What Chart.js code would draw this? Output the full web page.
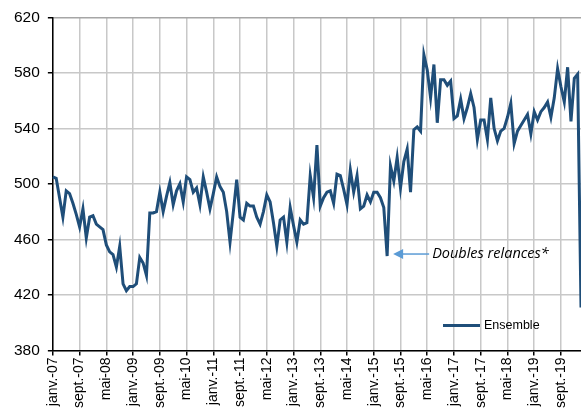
<!DOCTYPE html>
<html>
<head>
<meta charset="utf-8">
<script src="https://cdn.jsdelivr.net/npm/chart.js@4"></script>
<style>
  html, body { margin: 0; padding: 0; background: #fff; overflow: hidden; }
  #wrap { width: 581px; height: 416px; }
</style>
</head>
<body>
<div id="wrap"><canvas id="chart"></canvas></div>
<script>
// months / years for the category labels
const months = ['janv.', 'févr.', 'mars', 'avr.', 'mai', 'juin', 'juil.', 'août', 'sept.', 'oct.', 'nov.', 'déc.'];
const years = ['07', '08', '09', '10', '11', '12', '13', '14', '15', '16', '17', '18', '19', '20'];

// monthly values, one array per year
const v2007 = [505, 504, 490, 476, 495, 493, 486, 478, 469, 482, 461, 476];
const v2008 = [477, 471, 469, 467, 456, 451, 449, 440, 455, 428, 423, 426];
const v2009 = [426, 428, 447, 443, 434, 479, 479, 480, 494, 480, 491, 501];
const v2010 = [485, 495, 500, 487, 505, 503, 494, 497, 485, 505, 494, 482];
const v2011 = [493, 505, 498, 494, 480, 458, 480, 503, 476, 474, 486, 484];
const v2012 = [484, 476, 471, 480, 492, 487, 472, 455, 474, 476, 458, 483];
const v2013 = [470, 458, 474, 471, 472, 506, 490, 528, 484, 490, 494, 495];
const v2014 = [486, 507, 506, 496, 485, 510, 494, 506, 482, 484, 492, 487];
const v2015 = [494, 494, 490, 483, 448, 513, 502, 519, 497, 516, 525, 494];
const v2016 = [539, 541, 538, 593, 582, 562, 586, 544, 575, 575, 571, 574];
const v2017 = [547, 549, 561, 547, 555, 565, 555, 532, 546, 546, 532, 562];
const v2018 = [540, 531, 538, 540, 548, 558, 529, 538, 542, 546, 550, 536];
const v2019 = [552, 546, 552, 555, 559, 548, 562, 583, 570, 559, 584, 545];
const v2020 = [576, 579, 411];

const yTicks = [380, 420, 460, 500, 540, 580, 620];
const seriesName = 'Ensemble';
const noteText = 'Doubles relances*';
const noteIndex = 100; // mai-15

const values = [].concat(v2007, v2008, v2009, v2010, v2011, v2012, v2013,
  v2014, v2015, v2016, v2017, v2018, v2019, v2020);
const categories = [];
years.forEach(function (y) {
  months.forEach(function (m) { categories.push(m + '-' + y); });
});
categories.length = values.length;

const blue = '#1f4e79';

// legend inside the plot + arrow note
const extras = {
  id: 'extras',
  afterDatasetsDraw(chart) {
    const ctx = chart.ctx;
    const xs = chart.scales.x, ys = chart.scales.y;
    ctx.save();
    // legend
    ctx.strokeStyle = blue;
    ctx.lineWidth = 3;
    ctx.beginPath();
    ctx.moveTo(443, 325.5);
    ctx.lineTo(480, 325.5);
    ctx.stroke();
    ctx.fillStyle = '#000';
    ctx.font = '12.5px "Liberation Sans", Arial, sans-serif';
    ctx.textBaseline = 'middle';
    ctx.fillText(seriesName, 484, 325.5);

    // arrow pointing at the low point
    const px = xs.getPixelForValue(noteIndex) + 6;
    const py = ys.getPixelForValue(values[noteIndex]) - 2;
    ctx.strokeStyle = '#5b9bd5';
    ctx.fillStyle = '#5b9bd5';
    ctx.lineWidth = 1.5;
    ctx.beginPath();
    ctx.moveTo(px + 8, py);
    ctx.lineTo(px + 36, py);
    ctx.stroke();
    ctx.beginPath();
    ctx.moveTo(px, py);
    ctx.lineTo(px + 10, py - 5);
    ctx.lineTo(px + 10, py + 5);
    ctx.closePath();
    ctx.fill();

    ctx.fillStyle = '#000';
    ctx.font = 'italic 14.5px "Open Sans", sans-serif';
    ctx.textBaseline = 'middle';
    ctx.fillText(noteText, px + 39, py);
    ctx.restore();
  }
};

new Chart(document.getElementById('chart'), {
  type: 'line',
  data: {
    labels: categories,
    datasets: [{
      label: seriesName,
      data: values,
      borderColor: blue,
      borderWidth: 3,
      pointRadius: 0,
      tension: 0,
      fill: false
    }]
  },
  options: {
    responsive: true,
    maintainAspectRatio: false,
    animation: false,
    layout: { padding: { left: 6, top: 10, right: 0, bottom: 6 } },
    plugins: {
      legend: { display: false },
      tooltip: { enabled: false }
    },
    scales: {
      x: {
        offset: false,
        grid: {
          color: '#c8c8c8',
          lineWidth: 1.5,
          tickLength: 5,
          tickColor: '#000'
        },
        border: { color: '#000', width: 1.5 },
        ticks: {
          autoSkip: false,
          maxRotation: 90,
          minRotation: 90,
          padding: 2,
          color: '#000',
          font: { family: '"Liberation Sans", Arial, sans-serif', size: 14 },
          callback: function (val, i) {
            return i % 8 === 0 ? categories[i] : null;
          }
        }
      },
      y: {
        min: yTicks[0],
        max: yTicks[yTicks.length - 1],
        afterBuildTicks: function (axis) {
          axis.ticks = yTicks.map(function (v) { return { value: v }; });
        },
        grid: {
          color: function (c) { return c.tick && c.tick.value === 620 ? '#a6a6a6' : '#c8c8c8'; },
          lineWidth: 1.5,
          tickLength: 5,
          tickColor: '#000'
        },
        border: { color: '#000', width: 1.5 },
        ticks: {
          padding: 8,
          color: '#000',
          font: { family: '"Liberation Sans", Arial, sans-serif', size: 15.5 }
        }
      }
    }
  },
  plugins: [extras]
});
</script>
</body>
</html>
